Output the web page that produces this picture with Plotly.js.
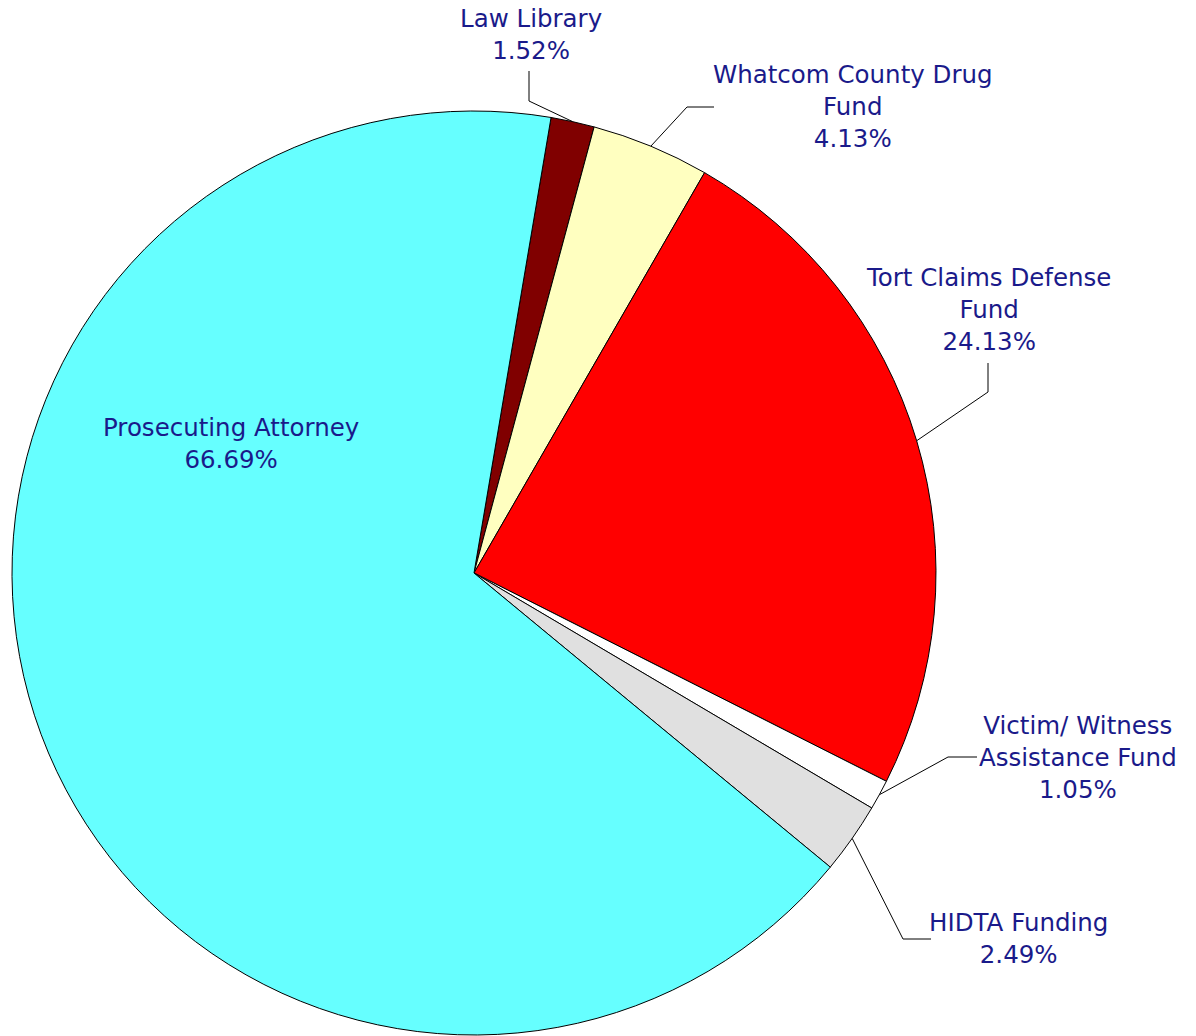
<!DOCTYPE html>
<html>
<head>
<meta charset="utf-8">
<script src="https://cdn.plot.ly/plotly-3.0.1.min.js"></script>
<style>html,body{margin:0;padding:0;background:#fff;}#chart{width:1196px;height:1036px;}</style>
</head>
<body>
<div id="chart"></div>
<script>
// ---- data ----
const categories = ["Law Library", "Whatcom County Drug Fund", "Tort Claims Defense Fund",
                    "Victim/ Witness Assistance Fund", "HIDTA Funding", "Prosecuting Attorney"];
const labelLines = ["Law Library", "Whatcom County Drug<br>Fund", "Tort Claims Defense<br>Fund",
                    "Victim/ Witness<br>Assistance Fund", "HIDTA Funding", "Prosecuting Attorney"];
const values = [1.52, 4.13, 24.13, 1.05, 2.49, 66.69];

// ---- styles / layout geometry ----
const colors = ["#800000", "#FFFFC0", "#FF0000", "#FFFFFF", "#E0E0E0", "#66FFFF"];
const W = 1196, H = 1036;
const CX = 474, CY = 573, R = 462;
const ROT = 9.6;
const textColor = "#1a1a8a";
const fontFam = "DejaVu Sans, sans-serif";
const fontSize = 24.5;
// label centre positions (px) and leader-line elbows (px); null = no leader
const labelPos = [[531, 35], [853, 107], [988, 310], [1078, 757], [1018, 938], [231, 443]];
const leaderPts = [
  [[529, 101], [529, 71]],
  [[687, 107], [714, 107]],
  [[988, 392], [988, 363]],
  [[948, 757], [977, 757]],
  [[903, 939], [931, 939]],
  null
];

const px = x => x / W;
const py = y => 1 - y / H;

const total = values.reduce((a, b) => a + b, 0);
const annotations = [];
const shapes = [];
let start = ROT;
values.forEach((v, i) => {
  const sweep = v / total * 360;
  const mid = (start + sweep / 2) * Math.PI / 180;
  start += sweep;
  const ax = CX + R * Math.sin(mid), ay = CY - R * Math.cos(mid);
  const [lx, ly] = labelPos[i];
  annotations.push({
    x: px(lx), y: py(ly), xref: "paper", yref: "paper",
    xanchor: "center", yanchor: "middle", showarrow: false, align: "center",
    text: labelLines[i] + "<br>" + v.toFixed(2) + "%",
    font: {family: fontFam, size: fontSize, color: textColor}
  });
  if (leaderPts[i]) {
    const pts = [[ax, ay]].concat(leaderPts[i]);
    for (let k = 0; k < pts.length - 1; k++) {
      shapes.push({type: "line", xref: "paper", yref: "paper",
        x0: px(pts[k][0]), y0: py(pts[k][1]), x1: px(pts[k + 1][0]), y1: py(pts[k + 1][1]),
        line: {color: "#000", width: 1}});
    }
  }
});

const trace = {
  type: "pie",
  labels: categories,
  values: values,
  sort: false,
  direction: "clockwise",
  rotation: ROT,
  marker: {colors: colors, line: {color: "#000", width: 1}},
  textinfo: "none",
  hoverinfo: "label+percent",
  domain: {x: [(CX - R) / W, (CX + R) / W], y: [1 - (CY + R) / H, 1 - (CY - R) / H]}
};

const layout = {
  width: W, height: H,
  margin: {l: 0, r: 0, t: 0, b: 0},
  paper_bgcolor: "#fff",
  showlegend: false,
  annotations: annotations,
  shapes: shapes,
  font: {family: fontFam}
};

Plotly.newPlot("chart", [trace], layout, {displayModeBar: false, staticPlot: true});
</script>
</body>
</html>
